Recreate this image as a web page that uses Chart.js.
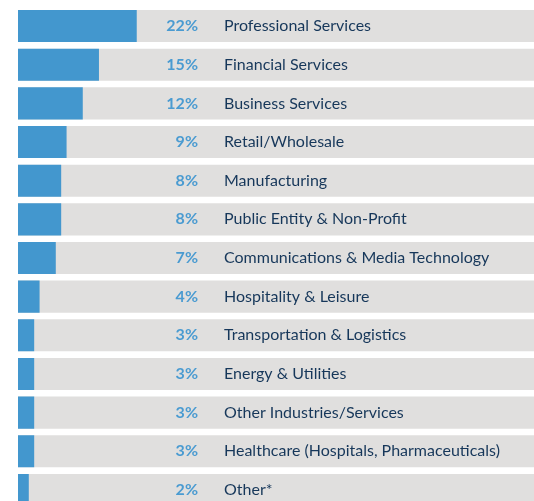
<!DOCTYPE html>
<html>
<head>
<meta charset="utf-8">
<script src="https://cdn.jsdelivr.net/npm/chart.js@4"></script>
<style>
  html, body { margin: 0; padding: 0; background: #fff; overflow: hidden; }
  canvas { display: block; }
</style>
</head>
<body>
<canvas id="industryChart" width="534" height="510"></canvas>
<script>
const industries = [
  'Professional Services',
  'Financial Services',
  'Business Services',
  'Retail/Wholesale',
  'Manufacturing',
  'Public Entity & Non-Profit',
  'Communications & Media Technology',
  'Hospitality & Leisure',
  'Transportation & Logistics',
  'Energy & Utilities',
  'Other Industries/Services',
  'Healthcare (Hospitals, Pharmaceuticals)',
  'Other*'
];
const shares = [22, 15, 12, 9, 8, 8, 7, 4, 3, 3, 3, 3, 2];
const track = industries.map(() => 100);

// percent + name next to each bar
const labelPlugin = {
  id: 'rowLabels',
  afterDatasetsDraw(chart) {
    const ctx = chart.ctx;
    const y = chart.scales.y;
    ctx.save();
    ctx.textBaseline = 'middle';
    industries.forEach((name, i) => {
      const py = y.getPixelForValue(i);
      ctx.font = 'bold 16px Lato';
      ctx.fillStyle = '#4a9bd1';
      ctx.textAlign = 'right';
      ctx.fillText(shares[i] + '%', 198, py);
      ctx.font = '16px Lato';
      ctx.fillStyle = '#16375a';
      ctx.textAlign = 'left';
      ctx.fillText(name, 224, py);
    });
    ctx.restore();
  }
};

new Chart(document.getElementById('industryChart'), {
  type: 'bar',
  data: {
    labels: industries,
    datasets: [{
      data: shares,
      backgroundColor: '#4397ce',
      grouped: false,
      order: 0,
      barPercentage: 0.83,
      categoryPercentage: 1
    }, {
      data: track,
      backgroundColor: '#e0dfde',
      grouped: false,
      order: 1,
      barPercentage: 0.83,
      categoryPercentage: 1
    }]
  },
  options: {
    indexAxis: 'y',
    responsive: false,
    animation: false,
    layout: { padding: { left: 18, right: 0, top: 6.7, bottom: 0.7 } },
    plugins: { legend: { display: false }, tooltip: { enabled: false } },
    scales: {
      x: { display: false, min: 0, max: 95.6 },
      y: { display: false }
    }
  },
  plugins: [labelPlugin]
});
</script>
</body>
</html>
